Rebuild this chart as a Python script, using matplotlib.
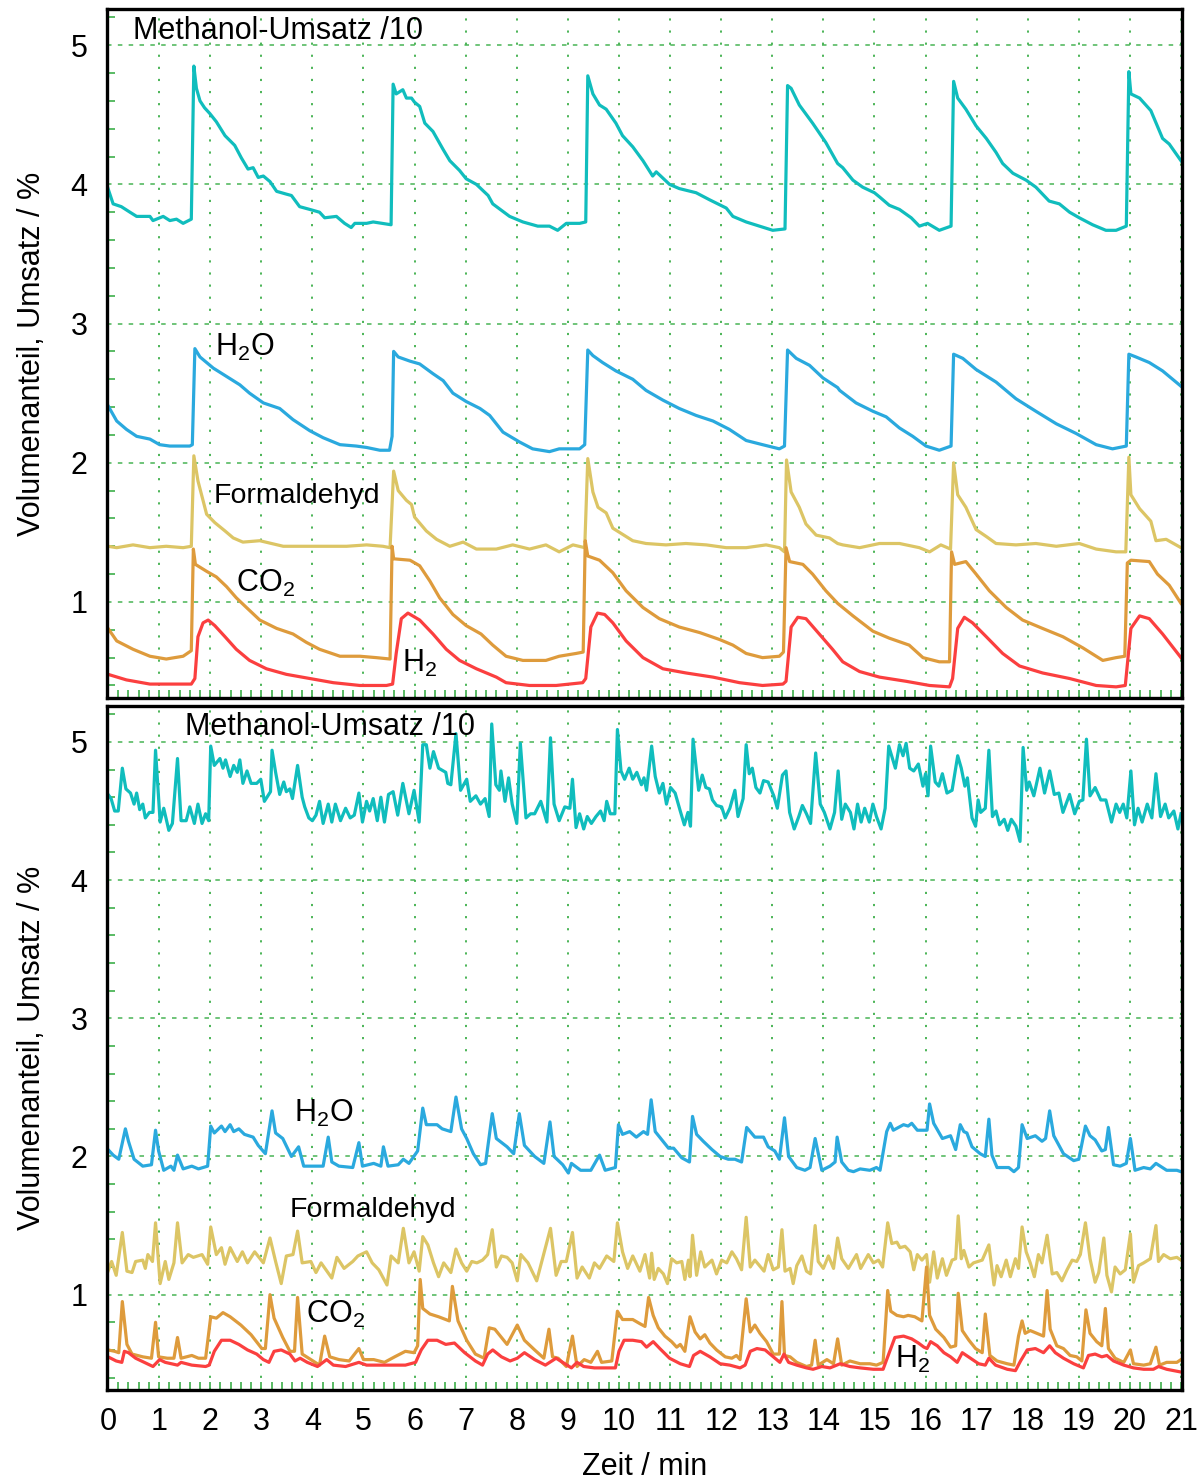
import numpy as np
import matplotlib
matplotlib.use("Agg")
import matplotlib.pyplot as plt
from matplotlib.ticker import MultipleLocator

plt.rcParams['font.family'] = ['Liberation Sans', 'DejaVu Sans']
plt.rcParams['mathtext.fontset'] = 'custom'
plt.rcParams['mathtext.rm'] = 'Liberation Sans'
plt.rcParams['mathtext.default'] = 'regular'

# colours of the five gases
c_meoh = '#10BDBD'
c_h2o = '#2AA9DE'
c_form = '#DCC565'
c_co2 = '#DE9B3C'
c_h2 = '#FB3F3F'
c_grid = '#3DAF4A'

# ---------------- upper panel (time / min, volume fraction) ----------------
top_methanol = [
    (0.00, 3.97), (0.10, 3.86), (0.26, 3.84), (0.43, 3.80), (0.56, 3.77), (0.82, 3.77), (0.88, 3.74),
    (1.08, 3.77), (1.21, 3.74), (1.34, 3.75), (1.47, 3.72), (1.63, 3.75),
    (1.68, 4.85), (1.73, 4.69), (1.80, 4.60), (1.89, 4.55), (1.99, 4.51), (2.12, 4.45), (2.29, 4.35),
    (2.48, 4.28), (2.61, 4.19), (2.74, 4.11), (2.84, 4.12), (2.94, 4.05), (3.04, 4.06), (3.17, 4.02),
    (3.30, 3.95), (3.49, 3.93), (3.59, 3.92), (3.75, 3.84), (3.95, 3.82), (4.14, 3.80), (4.24, 3.76),
    (4.47, 3.77), (4.63, 3.72), (4.76, 3.69), (4.83, 3.72), (5.06, 3.72), (5.19, 3.73), (5.54, 3.71),
    (5.58, 4.72), (5.64, 4.65), (5.77, 4.68), (5.84, 4.62), (5.94, 4.62), (6.00, 4.59), (6.10, 4.56),
    (6.20, 4.44), (6.36, 4.38), (6.56, 4.25), (6.69, 4.17), (6.88, 4.10), (7.01, 4.04), (7.21, 4.00),
    (7.44, 3.92), (7.53, 3.86), (7.86, 3.77), (8.12, 3.73), (8.41, 3.70), (8.64, 3.70), (8.80, 3.67),
    (8.97, 3.72), (9.23, 3.72), (9.35, 3.73),
    (9.39, 4.78), (9.49, 4.65), (9.62, 4.57), (9.75, 4.54), (9.94, 4.44), (10.07, 4.35), (10.27, 4.27),
    (10.47, 4.17), (10.66, 4.06), (10.73, 4.09), (10.99, 4.00), (11.18, 3.97), (11.51, 3.94), (11.77, 3.89),
    (12.10, 3.83), (12.23, 3.77), (12.49, 3.73), (12.75, 3.70), (13.01, 3.67), (13.25, 3.68),
    (13.30, 4.71), (13.37, 4.69), (13.53, 4.57), (13.79, 4.44), (14.05, 4.30), (14.28, 4.15), (14.38, 4.12),
    (14.58, 4.03), (14.77, 3.98), (15.00, 3.94), (15.10, 3.91), (15.29, 3.85), (15.49, 3.82), (15.72, 3.76),
    (15.88, 3.70), (16.04, 3.72), (16.27, 3.67), (16.50, 3.70),
    (16.55, 4.74), (16.63, 4.62), (16.79, 4.54), (16.99, 4.42), (17.19, 4.33), (17.38, 4.23), (17.51, 4.15),
    (17.71, 4.08), (17.97, 4.03), (18.16, 3.98), (18.42, 3.88), (18.62, 3.86), (18.82, 3.80), (19.01, 3.76),
    (19.27, 3.71), (19.53, 3.67), (19.73, 3.67), (19.93, 3.70),
    (19.98, 4.81), (20.02, 4.65), (20.19, 4.62), (20.41, 4.53), (20.64, 4.33), (20.77, 4.29), (21.00, 4.17)]

top_h2o = [
    (0.00, 2.41), (0.17, 2.30), (0.36, 2.24), (0.56, 2.19), (0.82, 2.17), (1.01, 2.13), (1.21, 2.12),
    (1.60, 2.12), (1.65, 2.13),
    (1.70, 2.82), (1.80, 2.76), (2.06, 2.68), (2.32, 2.62), (2.58, 2.56), (2.77, 2.50), (3.04, 2.43),
    (3.36, 2.39), (3.62, 2.31), (3.95, 2.23), (4.21, 2.18), (4.54, 2.13), (4.86, 2.12), (5.06, 2.11),
    (5.32, 2.09), (5.51, 2.09), (5.56, 2.19),
    (5.59, 2.80), (5.68, 2.76), (5.91, 2.73), (6.10, 2.71), (6.36, 2.64), (6.56, 2.59), (6.75, 2.50),
    (7.01, 2.44), (7.28, 2.39), (7.47, 2.34), (7.73, 2.22), (8.05, 2.15), (8.31, 2.10), (8.64, 2.08),
    (8.83, 2.10), (9.23, 2.10), (9.33, 2.13),
    (9.39, 2.81), (9.49, 2.77), (9.68, 2.72), (9.94, 2.66), (10.27, 2.60), (10.53, 2.52), (10.86, 2.45),
    (11.18, 2.39), (11.51, 2.34), (11.84, 2.30), (12.16, 2.24), (12.49, 2.16), (12.81, 2.13), (13.14, 2.10),
    (13.24, 2.12),
    (13.30, 2.81), (13.47, 2.75), (13.73, 2.70), (13.99, 2.61), (14.28, 2.54), (14.32, 2.52), (14.64, 2.43),
    (14.97, 2.37), (15.23, 2.33), (15.49, 2.25), (15.75, 2.19), (16.01, 2.12), (16.27, 2.09), (16.50, 2.12),
    (16.55, 2.78), (16.73, 2.75), (16.99, 2.67), (17.38, 2.58), (17.77, 2.46), (18.16, 2.37), (18.56, 2.28),
    (18.95, 2.21), (19.34, 2.13), (19.66, 2.10), (19.93, 2.12),
    (19.98, 2.78), (20.12, 2.76), (20.38, 2.72), (20.64, 2.66), (21.00, 2.55)]

top_formaldehyd = [
    (0.00, 1.40), (0.17, 1.39), (0.49, 1.41), (0.82, 1.39), (1.14, 1.40), (1.47, 1.39), (1.63, 1.40),
    (1.68, 2.05), (1.76, 1.87), (1.93, 1.63), (2.09, 1.57), (2.29, 1.51), (2.45, 1.46), (2.64, 1.43),
    (2.97, 1.44), (3.43, 1.40), (3.88, 1.40), (4.34, 1.40), (4.67, 1.40), (5.06, 1.41), (5.38, 1.40),
    (5.52, 1.39),
    (5.59, 1.94), (5.68, 1.80), (5.84, 1.73), (5.94, 1.70), (6.00, 1.61), (6.23, 1.51), (6.43, 1.45),
    (6.69, 1.40), (6.95, 1.43), (7.21, 1.38), (7.60, 1.38), (7.92, 1.41), (8.25, 1.38), (8.57, 1.41),
    (8.83, 1.36), (9.10, 1.41), (9.33, 1.39),
    (9.39, 2.03), (9.49, 1.79), (9.59, 1.68), (9.75, 1.64), (9.88, 1.53), (10.01, 1.50), (10.27, 1.44),
    (10.53, 1.42), (10.92, 1.41), (11.31, 1.42), (11.71, 1.41), (12.10, 1.39), (12.49, 1.39), (12.88, 1.41),
    (13.14, 1.39), (13.24, 1.36),
    (13.28, 2.02), (13.37, 1.79), (13.53, 1.68), (13.66, 1.56), (13.86, 1.48), (14.12, 1.46), (14.28, 1.42),
    (14.38, 1.41), (14.71, 1.39), (15.10, 1.42), (15.49, 1.42), (15.88, 1.39), (16.08, 1.36), (16.30, 1.41),
    (16.49, 1.38),
    (16.55, 2.00), (16.63, 1.77), (16.79, 1.68), (16.99, 1.52), (17.19, 1.47), (17.38, 1.42), (17.77, 1.41),
    (18.16, 1.42), (18.56, 1.40), (19.01, 1.42), (19.34, 1.38), (19.73, 1.36), (19.92, 1.36),
    (19.98, 2.04), (20.02, 1.77), (20.19, 1.67), (20.41, 1.58), (20.51, 1.44), (20.71, 1.45), (21.00, 1.39)]

top_co2 = [
    (0.00, 0.81), (0.17, 0.72), (0.49, 0.66), (0.82, 0.61), (1.14, 0.59), (1.47, 0.61), (1.63, 0.65),
    (1.67, 1.38), (1.71, 1.27), (1.93, 1.22), (2.12, 1.18), (2.32, 1.11), (2.51, 1.03), (2.71, 0.96),
    (2.97, 0.87), (3.30, 0.81), (3.62, 0.77), (3.88, 0.71), (4.14, 0.66), (4.54, 0.61), (4.93, 0.61),
    (5.25, 0.60), (5.52, 0.59),
    (5.56, 1.40), (5.59, 1.31), (5.91, 1.30), (6.10, 1.26), (6.30, 1.15), (6.49, 1.03), (6.75, 0.91),
    (7.01, 0.83), (7.30, 0.77), (7.53, 0.69), (7.79, 0.61), (8.12, 0.58), (8.57, 0.58), (8.83, 0.61),
    (9.16, 0.63), (9.30, 0.64),
    (9.34, 1.44), (9.39, 1.33), (9.62, 1.30), (9.88, 1.21), (10.14, 1.08), (10.47, 0.96), (10.79, 0.88),
    (11.18, 0.82), (11.58, 0.78), (11.97, 0.73), (12.23, 0.69), (12.49, 0.63), (12.81, 0.60), (13.14, 0.61),
    (13.22, 0.64),
    (13.27, 1.39), (13.34, 1.29), (13.60, 1.27), (13.79, 1.20), (14.05, 1.08), (14.28, 0.99), (14.58, 0.90),
    (14.97, 0.79), (15.29, 0.74), (15.68, 0.69), (15.95, 0.60), (16.27, 0.57), (16.47, 0.57),
    (16.51, 1.36), (16.57, 1.27), (16.79, 1.29), (16.99, 1.20), (17.25, 1.08), (17.58, 0.96), (17.90, 0.87),
    (18.29, 0.81), (18.69, 0.75), (19.08, 0.67), (19.47, 0.58), (19.73, 0.60), (19.90, 0.61),
    (19.95, 1.28), (20.02, 1.30), (20.38, 1.29), (20.54, 1.20), (20.77, 1.12), (21.00, 0.99)]

top_h2 = [
    (0.00, 0.48), (0.36, 0.44), (0.82, 0.41), (1.34, 0.41), (1.63, 0.41), (1.70, 0.45), (1.76, 0.75),
    (1.86, 0.85), (1.96, 0.87), (2.09, 0.83), (2.29, 0.75), (2.51, 0.66), (2.77, 0.58), (3.10, 0.52),
    (3.49, 0.48), (3.95, 0.45), (4.41, 0.42), (4.93, 0.40), (5.45, 0.40), (5.57, 0.41),
    (5.64, 0.63), (5.74, 0.88), (5.87, 0.92), (6.10, 0.87), (6.36, 0.77), (6.62, 0.66), (6.88, 0.58),
    (7.21, 0.52), (7.60, 0.46), (7.79, 0.42), (8.25, 0.40), (8.77, 0.40), (9.29, 0.42), (9.35, 0.45),
    (9.45, 0.82), (9.58, 0.92), (9.72, 0.91), (9.88, 0.85), (10.14, 0.72), (10.47, 0.60), (10.86, 0.52),
    (11.31, 0.49), (11.84, 0.46), (12.36, 0.42), (12.81, 0.40), (13.21, 0.41), (13.27, 0.43),
    (13.37, 0.82), (13.50, 0.89), (13.66, 0.88), (13.92, 0.77), (14.18, 0.66), (14.38, 0.57), (14.71, 0.50),
    (15.10, 0.46), (15.62, 0.43), (16.08, 0.40), (16.47, 0.39), (16.53, 0.45),
    (16.63, 0.81), (16.76, 0.89), (16.92, 0.85), (17.19, 0.75), (17.51, 0.63), (17.84, 0.54), (18.29, 0.49),
    (18.82, 0.45), (19.34, 0.40), (19.73, 0.39), (19.91, 0.40),
    (20.02, 0.81), (20.19, 0.90), (20.38, 0.88), (20.64, 0.77), (21.00, 0.60)]

# ---------------- lower panel ----------------
bot_methanol = [
    (0.00, 4.62), (0.06, 4.59), (0.13, 4.50), (0.20, 4.50), (0.28, 4.81), (0.35, 4.66), (0.44, 4.63),
    (0.51, 4.55), (0.56, 4.63), (0.62, 4.51), (0.68, 4.55), (0.73, 4.45), (0.81, 4.49), (0.88, 4.49),
    (0.93, 4.94), (1.02, 4.42), (1.09, 4.52), (1.19, 4.36), (1.26, 4.41), (1.36, 4.88), (1.43, 4.43),
    (1.53, 4.43), (1.60, 4.53), (1.69, 4.41), (1.76, 4.55), (1.84, 4.41), (1.91, 4.48), (1.97, 4.43),
    (2.01, 4.97), (2.08, 4.83), (2.19, 4.88), (2.25, 4.81), (2.30, 4.87), (2.39, 4.75), (2.46, 4.83),
    (2.53, 4.78), (2.58, 4.87), (2.64, 4.70), (2.72, 4.79), (2.80, 4.70), (2.91, 4.70), (2.99, 4.73),
    (3.06, 4.57), (3.18, 4.64), (3.21, 4.94), (3.28, 4.78), (3.36, 4.62), (3.44, 4.71), (3.49, 4.64),
    (3.56, 4.66), (3.61, 4.59), (3.71, 4.83), (3.80, 4.60), (3.85, 4.53), (3.93, 4.45),
    (4.00, 4.43), (4.07, 4.47), (4.14, 4.57), (4.21, 4.41), (4.31, 4.55), (4.38, 4.42), (4.45, 4.55),
    (4.55, 4.43), (4.65, 4.52), (4.74, 4.45), (4.82, 4.47), (4.91, 4.63), (4.98, 4.42), (5.06, 4.57),
    (5.12, 4.50), (5.19, 4.59), (5.27, 4.43), (5.34, 4.60), (5.41, 4.42), (5.49, 4.62), (5.58, 4.64),
    (5.67, 4.47), (5.77, 4.70), (5.89, 4.48), (5.99, 4.65), (6.09, 4.42),
    (6.16, 4.98), (6.23, 4.98), (6.30, 4.81), (6.37, 4.93), (6.47, 4.81), (6.61, 4.78), (6.65, 4.70),
    (6.71, 4.69), (6.81, 5.06), (6.90, 4.65), (7.02, 4.73), (7.09, 4.57), (7.20, 4.61), (7.29, 4.55),
    (7.38, 4.59), (7.46, 4.46), (7.51, 5.13), (7.59, 4.69), (7.66, 4.65), (7.69, 4.79), (7.77, 4.57),
    (7.84, 4.74), (7.91, 4.55), (8.00, 4.41), (8.07, 4.99), (8.18, 4.45), (8.27, 4.48), (8.35, 4.48),
    (8.47, 4.57), (8.59, 4.42), (8.66, 5.03), (8.73, 4.55), (8.83, 4.43), (8.94, 4.53), (9.04, 4.52),
    (9.09, 4.73), (9.16, 4.38), (9.23, 4.48), (9.31, 4.37), (9.38, 4.46), (9.46, 4.41), (9.55, 4.46),
    (9.64, 4.50), (9.71, 4.43), (9.76, 4.57), (9.83, 4.48), (9.92, 4.48),
    (9.97, 5.09), (10.04, 4.79), (10.11, 4.73), (10.20, 4.81), (10.27, 4.73), (10.35, 4.78), (10.44, 4.69),
    (10.49, 4.74), (10.54, 4.65), (10.64, 4.97), (10.71, 4.75), (10.79, 4.63), (10.86, 4.70), (10.93, 4.55),
    (11.01, 4.67), (11.10, 4.63), (11.20, 4.50), (11.28, 4.40), (11.35, 4.49), (11.40, 4.39), (11.45, 5.02),
    (11.56, 4.65), (11.63, 4.76), (11.70, 4.67), (11.77, 4.66), (11.83, 4.58), (11.91, 4.54), (12.01, 4.53),
    (12.08, 4.45), (12.17, 4.52), (12.27, 4.65), (12.33, 4.46), (12.43, 4.59), (12.49, 4.98), (12.55, 4.77),
    (12.61, 4.81), (12.68, 4.67), (12.76, 4.63), (12.83, 4.72), (12.92, 4.71), (13.03, 4.61), (13.10, 4.52),
    (13.20, 4.76), (13.27, 4.79), (13.34, 4.49), (13.43, 4.37), (13.52, 4.46), (13.59, 4.54), (13.67, 4.48),
    (13.75, 4.41), (13.85, 4.92), (13.94, 4.55), (14.02, 4.49), (14.13, 4.37), (14.22, 4.49), (14.29, 4.79),
    (14.36, 4.44), (14.43, 4.55), (14.53, 4.49), (14.60, 4.37), (14.67, 4.55), (14.74, 4.42), (14.81, 4.52),
    (14.90, 4.42), (14.97, 4.55), (15.04, 4.46), (15.13, 4.37), (15.21, 4.52),
    (15.28, 4.97), (15.41, 4.81), (15.49, 4.98), (15.56, 4.90), (15.62, 4.99), (15.69, 4.81), (15.77, 4.79),
    (15.86, 4.84), (15.95, 4.68), (16.00, 4.77), (16.05, 4.61), (16.10, 4.97), (16.19, 4.71), (16.26, 4.68),
    (16.33, 4.77), (16.42, 4.63), (16.52, 4.65), (16.63, 4.90), (16.70, 4.81), (16.77, 4.68), (16.82, 4.74),
    (16.91, 4.45), (16.98, 4.39), (17.03, 4.58), (17.08, 4.49), (17.17, 4.52), (17.24, 4.94), (17.31, 4.46),
    (17.38, 4.50), (17.45, 4.40), (17.54, 4.44), (17.61, 4.36), (17.68, 4.44), (17.77, 4.39), (17.85, 4.28),
    (17.91, 4.96), (17.98, 4.65), (18.03, 4.71), (18.12, 4.61), (18.24, 4.81), (18.33, 4.63), (18.43, 4.79),
    (18.52, 4.62), (18.61, 4.63), (18.69, 4.49), (18.82, 4.62), (18.92, 4.48), (19.01, 4.57), (19.08, 4.58),
    (19.15, 5.02), (19.22, 4.61), (19.32, 4.67), (19.43, 4.58), (19.53, 4.58), (19.64, 4.42), (19.73, 4.55),
    (19.80, 4.49), (19.87, 4.55), (19.94, 4.45), (20.02, 4.79), (20.09, 4.40), (20.16, 4.52), (20.24, 4.42),
    (20.34, 4.55), (20.43, 4.45), (20.51, 4.77), (20.60, 4.46), (20.69, 4.55), (20.76, 4.45), (20.86, 4.50),
    (20.94, 4.37), (21.00, 4.48)]

bot_h2o = [
    (0.00, 2.05), (0.10, 2.01), (0.21, 1.98), (0.34, 2.20), (0.40, 2.11), (0.51, 1.98), (0.68, 1.93),
    (0.85, 1.94), (0.93, 2.19), (0.99, 2.04), (1.09, 1.90), (1.23, 1.93), (1.29, 1.90), (1.36, 2.01),
    (1.47, 1.91), (1.64, 1.93), (1.77, 1.91), (1.95, 1.93),
    (2.01, 2.22), (2.08, 2.17), (2.22, 2.22), (2.29, 2.18), (2.39, 2.23), (2.46, 2.18), (2.56, 2.20),
    (2.67, 2.16), (2.84, 2.14), (2.94, 2.08), (3.08, 2.02), (3.21, 2.33), (3.28, 2.17), (3.42, 2.13),
    (3.59, 2.00), (3.73, 2.07), (3.83, 1.93), (3.97, 1.93), (4.10, 1.93), (4.21, 1.93), (4.31, 2.14),
    (4.38, 1.96), (4.52, 1.93), (4.79, 1.92), (4.91, 2.10), (4.98, 1.93), (5.20, 1.95), (5.34, 1.93),
    (5.39, 2.07), (5.48, 1.93), (5.68, 1.94), (5.78, 1.98), (5.89, 1.95), (6.06, 2.04),
    (6.16, 2.35), (6.23, 2.23), (6.44, 2.23), (6.54, 2.20), (6.71, 2.18), (6.81, 2.43), (6.92, 2.20),
    (7.02, 2.13), (7.15, 2.02), (7.29, 1.94), (7.39, 1.95), (7.52, 2.31), (7.60, 2.13), (7.81, 2.07),
    (7.94, 2.02), (8.05, 2.31), (8.15, 2.08), (8.35, 2.00), (8.53, 1.95), (8.65, 2.25), (8.73, 2.00),
    (8.90, 1.94), (9.01, 1.88), (9.07, 1.95), (9.25, 1.90), (9.45, 1.90), (9.62, 2.01), (9.73, 1.90),
    (9.93, 1.92),
    (9.99, 2.23), (10.07, 2.16), (10.21, 2.18), (10.34, 2.14), (10.48, 2.18), (10.56, 2.16), (10.63, 2.41),
    (10.71, 2.18), (10.84, 2.12), (10.97, 2.06), (11.07, 2.06), (11.23, 1.99), (11.38, 1.96), (11.44, 2.29),
    (11.52, 2.16), (11.65, 2.11), (11.82, 2.05), (11.98, 2.00), (12.14, 1.98), (12.27, 1.98), (12.40, 1.96),
    (12.50, 2.21), (12.66, 2.14), (12.83, 2.14), (12.92, 2.07), (13.05, 2.04), (13.14, 1.98), (13.24, 2.28),
    (13.32, 2.00), (13.48, 1.92), (13.64, 1.90), (13.74, 1.92), (13.84, 2.13), (13.97, 1.90), (14.13, 1.93),
    (14.23, 1.96), (14.27, 2.14), (14.36, 1.96), (14.49, 1.90), (14.59, 1.89), (14.72, 1.91), (14.91, 1.90),
    (15.04, 1.92), (15.11, 1.90),
    (15.24, 2.18), (15.31, 2.24), (15.37, 2.19), (15.57, 2.23), (15.66, 2.22), (15.73, 2.24), (15.84, 2.19),
    (16.03, 2.19), (16.08, 2.38), (16.16, 2.24), (16.33, 2.13), (16.49, 2.15), (16.59, 2.05), (16.68, 2.23),
    (16.75, 2.18), (16.81, 2.17), (16.91, 2.07), (17.07, 2.02), (17.17, 2.00), (17.24, 2.27), (17.30, 2.01),
    (17.40, 1.92), (17.63, 1.92), (17.73, 1.89), (17.82, 1.92), (17.89, 2.23), (17.99, 2.13), (18.15, 2.15),
    (18.28, 2.11), (18.35, 2.13), (18.43, 2.33), (18.51, 2.15), (18.70, 2.02), (18.90, 1.97), (19.00, 1.98),
    (19.13, 2.22), (19.22, 2.15), (19.32, 2.12), (19.45, 2.04), (19.52, 2.05), (19.58, 2.21), (19.68, 1.94),
    (19.81, 1.93), (19.93, 1.95), (20.01, 2.13), (20.10, 1.90), (20.27, 1.92), (20.40, 1.91), (20.51, 1.95),
    (20.72, 1.90), (20.92, 1.90), (21.00, 1.89)]

bot_formaldehyd = [
    (0.00, 1.17), (0.07, 1.24), (0.16, 1.14), (0.28, 1.45), (0.37, 1.17), (0.47, 1.16), (0.54, 1.24),
    (0.68, 1.25), (0.73, 1.19), (0.78, 1.29), (0.87, 1.24), (0.93, 1.52), (1.02, 1.08), (1.12, 1.24),
    (1.19, 1.11), (1.29, 1.23), (1.36, 1.52), (1.45, 1.23), (1.57, 1.29), (1.67, 1.27), (1.84, 1.29),
    (1.95, 1.22), (2.01, 1.49), (2.12, 1.29), (2.22, 1.34), (2.29, 1.22), (2.39, 1.34), (2.53, 1.24),
    (2.63, 1.31), (2.73, 1.23), (2.87, 1.31), (3.04, 1.23), (3.17, 1.41), (3.28, 1.24), (3.39, 1.08),
    (3.49, 1.28), (3.62, 1.29), (3.71, 1.46), (3.80, 1.23), (3.97, 1.24), (4.07, 1.16), (4.17, 1.23),
    (4.38, 1.12), (4.48, 1.27), (4.62, 1.19), (4.79, 1.24), (4.89, 1.28), (5.06, 1.31), (5.17, 1.23),
    (5.30, 1.18), (5.46, 1.07), (5.54, 1.28), (5.68, 1.23), (5.78, 1.48), (5.89, 1.23), (5.99, 1.31),
    (6.09, 1.17), (6.16, 1.42), (6.26, 1.36), (6.37, 1.23), (6.47, 1.13), (6.57, 1.23), (6.71, 1.16),
    (6.81, 1.33), (6.92, 1.23), (7.02, 1.17), (7.12, 1.24), (7.22, 1.23), (7.33, 1.25), (7.43, 1.29),
    (7.52, 1.47), (7.60, 1.20), (7.70, 1.28), (7.81, 1.27), (7.91, 1.23), (8.01, 1.10), (8.08, 1.29),
    (8.22, 1.23), (8.39, 1.10), (8.49, 1.24), (8.66, 1.48), (8.77, 1.14), (8.87, 1.24), (8.97, 1.24),
    (9.09, 1.45), (9.18, 1.12), (9.28, 1.20), (9.42, 1.12), (9.52, 1.23), (9.62, 1.19), (9.76, 1.28),
    (9.90, 1.24), (9.97, 1.52), (10.07, 1.31), (10.17, 1.19), (10.27, 1.28), (10.41, 1.17), (10.51, 1.29),
    (10.60, 1.12), (10.64, 1.30), (10.69, 1.11), (10.77, 1.19), (10.87, 1.15), (10.95, 1.08), (11.03, 1.26),
    (11.13, 1.23), (11.23, 1.24), (11.29, 1.11), (11.36, 1.25), (11.39, 1.13), (11.44, 1.43), (11.52, 1.14),
    (11.60, 1.31), (11.68, 1.20), (11.82, 1.25), (11.91, 1.15), (12.01, 1.25), (12.11, 1.23), (12.21, 1.31),
    (12.30, 1.26), (12.40, 1.18), (12.49, 1.56), (12.57, 1.20), (12.66, 1.25), (12.75, 1.21), (12.84, 1.17),
    (12.92, 1.29), (13.02, 1.18), (13.12, 1.20), (13.19, 1.47), (13.25, 1.17), (13.35, 1.19), (13.41, 1.08),
    (13.48, 1.21), (13.58, 1.28), (13.67, 1.17), (13.75, 1.15), (13.84, 1.50), (13.90, 1.24), (14.00, 1.19),
    (14.10, 1.28), (14.20, 1.19), (14.28, 1.41), (14.36, 1.26), (14.49, 1.19), (14.65, 1.29), (14.73, 1.19),
    (14.88, 1.29), (14.98, 1.23), (15.08, 1.25), (15.16, 1.20), (15.26, 1.52), (15.34, 1.37), (15.44, 1.38),
    (15.50, 1.34), (15.60, 1.35), (15.70, 1.31), (15.77, 1.18), (15.84, 1.29), (15.93, 1.25), (16.02, 1.29),
    (16.08, 1.09), (16.16, 1.31), (16.23, 1.12), (16.33, 1.26), (16.41, 1.14), (16.52, 1.25), (16.59, 1.26),
    (16.64, 1.57), (16.70, 1.26), (16.75, 1.32), (16.85, 1.20), (16.94, 1.23), (17.11, 1.25), (17.24, 1.36),
    (17.34, 1.07), (17.40, 1.21), (17.48, 1.13), (17.58, 1.25), (17.66, 1.13), (17.76, 1.26), (17.82, 1.19),
    (17.89, 1.49), (17.97, 1.31), (18.05, 1.23), (18.13, 1.13), (18.21, 1.29), (18.28, 1.23), (18.38, 1.43),
    (18.48, 1.15), (18.57, 1.16), (18.67, 1.10), (18.77, 1.18), (18.87, 1.25), (18.96, 1.24), (19.03, 1.29),
    (19.13, 1.52), (19.22, 1.26), (19.32, 1.09), (19.39, 1.16), (19.49, 1.41), (19.55, 1.14), (19.64, 1.02),
    (19.71, 1.20), (19.81, 1.15), (19.91, 1.18), (20.01, 1.44), (20.07, 1.09), (20.17, 1.21), (20.27, 1.23),
    (20.40, 1.26), (20.51, 1.50), (20.56, 1.24), (20.66, 1.29), (20.79, 1.26), (20.92, 1.27), (21.00, 1.25)]

bot_co2 = [
    (0.00, 0.60), (0.13, 0.59), (0.21, 0.58), (0.28, 0.95), (0.37, 0.64), (0.47, 0.57), (0.68, 0.55),
    (0.85, 0.54), (0.93, 0.80), (0.99, 0.55), (1.16, 0.54), (1.29, 0.54), (1.36, 0.69), (1.43, 0.54),
    (1.64, 0.56), (1.77, 0.54), (1.91, 0.54), (2.01, 0.84), (2.12, 0.83), (2.25, 0.87), (2.39, 0.84),
    (2.60, 0.78), (2.80, 0.71), (3.01, 0.61), (3.08, 0.61), (3.17, 1.00), (3.25, 0.83), (3.42, 0.69),
    (3.56, 0.59), (3.65, 0.59), (3.71, 0.98), (3.80, 0.57), (3.97, 0.53), (4.14, 0.49), (4.24, 0.70),
    (4.34, 0.55), (4.52, 0.53), (4.72, 0.52), (4.91, 0.61), (5.00, 0.53), (5.20, 0.53), (5.41, 0.51),
    (5.61, 0.55), (5.82, 0.59), (5.99, 0.58), (6.06, 0.63), (6.11, 1.11), (6.16, 0.90), (6.30, 0.86),
    (6.47, 0.84), (6.68, 0.81), (6.74, 1.06), (6.85, 0.81), (7.02, 0.67), (7.19, 0.57), (7.36, 0.54),
    (7.46, 0.76), (7.57, 0.75), (7.70, 0.69), (7.81, 0.64), (7.91, 0.71), (8.01, 0.78), (8.15, 0.67),
    (8.35, 0.60), (8.53, 0.54), (8.63, 0.75), (8.70, 0.55), (8.81, 0.54), (8.97, 0.48), (9.09, 0.70),
    (9.18, 0.48), (9.32, 0.53), (9.45, 0.51), (9.58, 0.59), (9.66, 0.51), (9.86, 0.52), (9.97, 0.88),
    (10.07, 0.82), (10.27, 0.82), (10.41, 0.79), (10.51, 0.77), (10.58, 0.98), (10.67, 0.85), (10.77, 0.76),
    (10.90, 0.70), (11.03, 0.66), (11.13, 0.62), (11.20, 0.64), (11.29, 0.59), (11.39, 0.84), (11.49, 0.73),
    (11.59, 0.68), (11.68, 0.71), (11.78, 0.65), (11.91, 0.60), (12.08, 0.55), (12.21, 0.54), (12.30, 0.56),
    (12.37, 0.53), (12.49, 0.97), (12.57, 0.73), (12.66, 0.78), (12.76, 0.72), (12.89, 0.66), (13.02, 0.57),
    (13.14, 0.57), (13.19, 0.95), (13.24, 0.56), (13.35, 0.55), (13.48, 0.51), (13.67, 0.48), (13.77, 0.49),
    (13.84, 0.67), (13.90, 0.49), (14.07, 0.53), (14.20, 0.50), (14.28, 0.68), (14.36, 0.49), (14.52, 0.52),
    (14.72, 0.50), (14.91, 0.50), (15.04, 0.49), (15.17, 0.51), (15.26, 1.03), (15.32, 0.88), (15.44, 0.85),
    (15.57, 0.84), (15.66, 0.85), (15.79, 0.84), (15.93, 0.81), (16.02, 1.20), (16.08, 0.85), (16.20, 0.75),
    (16.36, 0.69), (16.49, 0.62), (16.59, 0.63), (16.64, 1.01), (16.72, 0.74), (16.85, 0.67), (16.98, 0.61),
    (17.11, 0.58), (17.17, 0.86), (17.26, 0.56), (17.40, 0.52), (17.60, 0.50), (17.73, 0.49), (17.82, 0.70),
    (17.89, 0.81), (17.95, 0.72), (18.05, 0.74), (18.18, 0.72), (18.31, 0.70), (18.38, 1.03), (18.44, 0.75),
    (18.57, 0.63), (18.70, 0.61), (18.83, 0.56), (18.96, 0.55), (19.06, 0.52), (19.14, 0.89), (19.22, 0.72),
    (19.35, 0.66), (19.45, 0.63), (19.52, 0.90), (19.58, 0.61), (19.71, 0.54), (19.88, 0.51), (20.01, 0.60),
    (20.07, 0.50), (20.27, 0.49), (20.40, 0.50), (20.51, 0.62), (20.58, 0.49), (20.72, 0.51), (20.92, 0.51),
    (21.00, 0.53)]

bot_h2 = [
    (0.00, 0.55), (0.16, 0.52), (0.27, 0.51), (0.32, 0.59), (0.40, 0.58), (0.54, 0.54), (0.71, 0.51),
    (0.88, 0.48), (1.01, 0.53), (1.12, 0.51), (1.36, 0.49), (1.43, 0.51), (1.64, 0.49), (1.91, 0.48),
    (1.98, 0.49), (2.08, 0.59), (2.22, 0.67), (2.39, 0.67), (2.56, 0.64), (2.73, 0.60), (2.91, 0.57),
    (3.04, 0.53), (3.15, 0.51), (3.25, 0.59), (3.39, 0.60), (3.56, 0.57), (3.66, 0.52), (3.76, 0.54),
    (3.90, 0.51), (4.10, 0.48), (4.28, 0.53), (4.41, 0.49), (4.65, 0.48), (4.91, 0.51), (5.06, 0.49),
    (5.34, 0.49), (5.61, 0.49), (5.82, 0.49), (6.02, 0.51), (6.13, 0.60), (6.26, 0.67), (6.44, 0.67),
    (6.61, 0.64), (6.78, 0.65), (6.98, 0.58), (7.19, 0.52), (7.33, 0.49), (7.43, 0.57), (7.53, 0.60),
    (7.70, 0.55), (7.87, 0.52), (8.01, 0.54), (8.15, 0.58), (8.35, 0.53), (8.56, 0.49), (8.77, 0.54),
    (8.90, 0.51), (9.07, 0.47), (9.18, 0.51), (9.31, 0.48), (9.52, 0.47), (9.73, 0.47), (9.93, 0.47),
    (10.00, 0.59), (10.10, 0.67), (10.27, 0.67), (10.44, 0.66), (10.54, 0.62), (10.67, 0.66), (10.80, 0.61),
    (10.99, 0.54), (11.20, 0.50), (11.38, 0.48), (11.46, 0.56), (11.59, 0.59), (11.78, 0.55), (11.98, 0.50),
    (12.17, 0.49), (12.37, 0.47), (12.47, 0.49), (12.57, 0.59), (12.70, 0.61), (12.86, 0.60), (13.02, 0.55),
    (13.15, 0.51), (13.23, 0.57), (13.32, 0.51), (13.48, 0.49), (13.67, 0.47), (13.80, 0.46), (13.97, 0.48),
    (14.13, 0.47), (14.33, 0.50), (14.52, 0.48), (14.72, 0.47), (14.98, 0.46), (15.17, 0.46), (15.27, 0.56),
    (15.40, 0.69), (15.57, 0.70), (15.73, 0.68), (15.86, 0.65), (15.97, 0.62), (16.03, 0.61), (16.10, 0.66),
    (16.23, 0.63), (16.36, 0.58), (16.49, 0.55), (16.62, 0.51), (16.72, 0.58), (16.88, 0.54), (17.04, 0.50),
    (17.17, 0.49), (17.24, 0.54), (17.37, 0.49), (17.60, 0.46), (17.76, 0.45), (17.86, 0.52), (17.99, 0.60),
    (18.15, 0.61), (18.31, 0.58), (18.43, 0.63), (18.54, 0.58), (18.70, 0.54), (18.90, 0.50), (19.09, 0.47),
    (19.19, 0.56), (19.32, 0.57), (19.45, 0.55), (19.55, 0.56), (19.68, 0.52), (19.88, 0.49), (20.07, 0.47),
    (20.27, 0.46), (20.46, 0.46), (20.56, 0.48), (20.72, 0.46), (21.00, 0.44)]

x_ticks = list(range(0, 22))
y_ticks = [1, 2, 3, 4, 5]

fig = plt.figure(figsize=(12.04, 14.81), dpi=100)
ax_top = fig.add_axes([107 / 1204, 1 - 698 / 1481, 1075 / 1204, 689 / 1481])
ax_bot = fig.add_axes([107 / 1204, 1 - 1390 / 1481, 1075 / 1204, 684 / 1481])

panels = [
    (ax_top, [top_methanol, top_h2o, top_formaldehyd, top_co2, top_h2]),
    (ax_bot, [bot_methanol, bot_h2o, bot_formaldehyd, bot_co2, bot_h2]),
]
colors = [c_meoh, c_h2o, c_form, c_co2, c_h2]

for ax, series in panels:
    for data, col in zip(series, colors):
        t, v = zip(*data)
        ax.plot(t, v, color=col, lw=2.3, solid_joinstyle='round', zorder=3)
    ax.set_xlim(-0.02, 21.02)
    ax.set_ylim(0.31, 5.26)
    ax.set_xticks(x_ticks)
    ax.set_yticks(y_ticks)
    ax.xaxis.set_minor_locator(MultipleLocator(0.2))
    ax.yaxis.set_minor_locator(MultipleLocator(0.2))
    ax.xaxis.grid(True, color=c_grid, linestyle=(0, (1.2, 5.5)), lw=1.3)
    ax.yaxis.grid(True, color=c_grid, linestyle=(0, (2.5, 3.5)), lw=1.3, alpha=0.8)
    ax.tick_params(axis='x', which='both', direction='in', top=False, bottom=True,
                   length=6, width=1.2, color=c_grid, labelsize=22, pad=12)
    ax.tick_params(axis='y', which='major', direction='in', length=0, labelsize=22, pad=14)
    ax.tick_params(axis='y', which='minor', direction='in', length=6, width=1.2, color=c_grid)
    for sp in ax.spines.values():
        sp.set_linewidth(2.4)
        sp.set_zorder(5)
    ax.set_ylabel('Volumenanteil, Umsatz / %', fontsize=22)
    ax.yaxis.set_label_coords(-0.056, 0.5)

ax_top.tick_params(axis='x', labelbottom=False)
ax_bot.set_xlabel('Zeit / min', fontsize=22, labelpad=11)

lab = dict(fontsize=22, va='center', ha='left', zorder=6)
lab_small = dict(lab, fontsize=20.5)
ax_top.text(0.49, 5.10, 'Methanol-Umsatz /10', **lab)
ax_top.text(2.09, 2.83, 'H$_2$O', **lab)
ax_top.text(2.07, 1.76, 'Formaldehyd', **lab_small)
ax_top.text(2.50, 1.13, 'CO$_2$', **lab)
ax_top.text(5.75, 0.56, 'H$_2$', **lab)

ax_bot.text(1.51, 5.11, 'Methanol-Umsatz /10', **lab)
ax_bot.text(3.64, 2.31, 'H$_2$O', **lab)
ax_bot.text(3.56, 1.61, 'Formaldehyd', **lab_small)
ax_bot.text(3.87, 0.86, 'CO$_2$', **lab)
ax_bot.text(15.40, 0.53, 'H$_2$', **lab)

fig.savefig('out.png', dpi=100)
